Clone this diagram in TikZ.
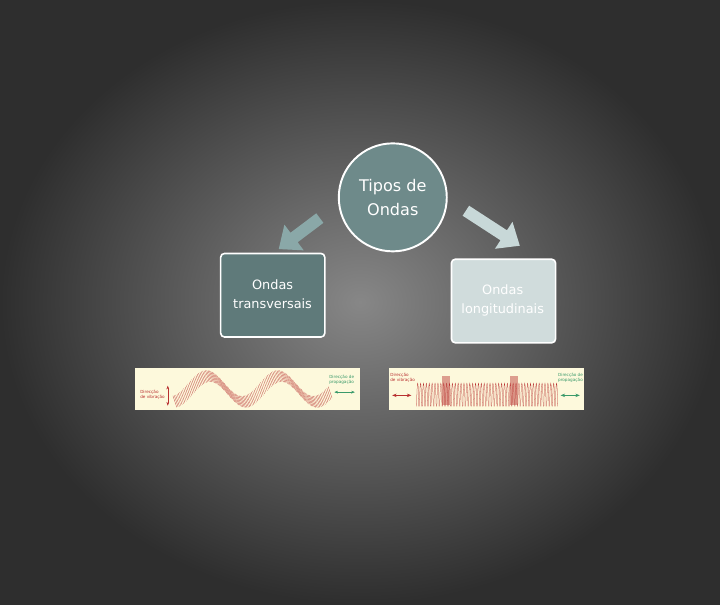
\documentclass[tikz,border=0pt]{standalone}
\usepackage{fontspec}
\setmainfont{DejaVu Sans}
\usetikzlibrary{arrows.meta,shapes.arrows}
\definecolor{circ}{HTML}{6E8A8A}
\definecolor{lbox}{HTML}{5F7A7A}
\definecolor{rbox}{HTML}{D0DCDC}
\definecolor{larr}{HTML}{8AA8A8}
\definecolor{rarr}{HTML}{C8D8D8}
\definecolor{paper}{HTML}{FDF9DC}
\definecolor{wred}{HTML}{B83030}
\definecolor{wgreen}{HTML}{3A9A6A}
\begin{document}
\begin{tikzpicture}[x=1pt,y=-1pt,
  boxst/.style={draw=white,line width=2.5pt,rounded corners=6pt,minimum width=162pt,minimum height=130pt,anchor=north west,text=white,font=\fontsize{19}{23}\selectfont,align=center},
  small/.style={font=\fontsize{6.5}{7.5}\selectfont,align=left,inner sep=0pt},
  fatarrow/.style={single arrow,minimum width=50pt,single arrow head extend=6pt,single arrow tip angle=80,anchor=center}]
\fill[black!82] (0,0) rectangle (720,540);
\shade[inner color={rgb,255:red,135;green,135;blue,135},outer color=black!82] (-200,-200) rectangle (920,740);
\useasboundingbox (0,0) rectangle (720,540);
% arrows
\node[fatarrow,fill=larr,minimum height=80pt,rotate=-143] (la) at (270,160) {};
\node[fatarrow,fill=rarr,minimum height=100pt,rotate=-33] (ra) at (562,152) {};
% circle
\node[circle,draw=white,line width=3pt,fill=circ,minimum size=168pt,text=white,font=\fontsize{25}{38}\selectfont,align=center] (c) at (411,107) {Tipos de\\Ondas};
% boxes
\node[boxst,fill=lbox] (lb) at (142,193) {};
\node[text=white,font=\fontsize{20}{30}\selectfont,align=center] (lt) at (224,258) {Ondas\\transversais};
\node[boxst,fill=rbox] (rb) at (501,202) {};
\node[text=white,font=\fontsize{20}{30}\selectfont,align=center] (rt) at (582,267) {Ondas\\longitudinais};
% left image
\fill[paper] (10,372) rectangle (360,437);
\foreach \i in {0,...,115}{
  \pgfmathsetmacro{\xx}{72+2.1*\i}
  \pgfmathsetmacro{\yy}{405-20*sin((\xx-124)/111*360+90)}
  \draw[wred,line width=0.35pt] (\xx-3,\yy-9) -- (\xx+3,\yy+9);
}
\node[small,text=wred,anchor=west] (lv) at (18,414) {Direcção\\de vibração};
\draw[wred,Stealth-Stealth,line width=0.6pt] (61,400) -- (61,431);
\node[small,text=wgreen,anchor=west] (lp) at (312,391) {Direcção de\\propagação};
\draw[wgreen,Stealth-Stealth,line width=0.6pt] (320,410) -- (352,410);
% right image
\fill[paper] (405,372) rectangle (708,437);
\foreach \x in {448,452.5,...,668}{
  \draw[wred,line width=0.4pt] (\x,432) .. controls (\x+1,384) and (\x+2.5,384) .. (\x+3.5,432);
}
\fill[wred,opacity=0.45] (487,385) rectangle (500,430);
\fill[wred,opacity=0.45] (594,385) rectangle (606,430);
\node[small,text=wred,anchor=west] (rv) at (407,388) {Direcção\\de vibração};
\draw[wred,Stealth-Stealth,line width=0.9pt] (410,415) -- (440,415);
\node[small,text=wgreen,anchor=west] (rp) at (668,388) {Direcção de\\propagação};
\draw[wgreen,Stealth-Stealth,line width=0.9pt] (672,415) -- (702,415);
\end{tikzpicture}
\end{document}
